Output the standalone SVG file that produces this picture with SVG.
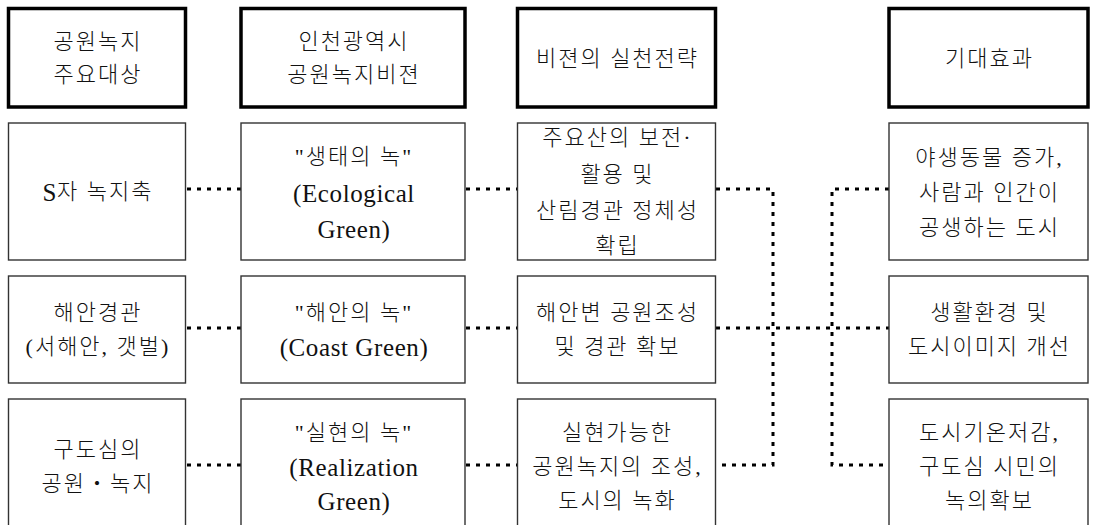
<svg xmlns="http://www.w3.org/2000/svg" width="1093" height="525" viewBox="0 0 1093 525">
<style>
.hd{fill:#fff;stroke:#000;stroke-width:3.5}
.bx{fill:#fff;stroke:#333;stroke-width:1.4}
.t{font-family:"Liberation Serif","Noto Sans CJK KR",serif;font-size:22px;font-weight:300;letter-spacing:2px;fill:#111;text-anchor:middle;dominant-baseline:central}
.e{font-size:25px;letter-spacing:0.6px;font-weight:400}
.cn{fill:none;stroke:#000;stroke-width:3;stroke-dasharray:4 6}
</style>
<rect width="1093" height="525" fill="#fff"/>
<g id="connectors">
<path class="cn" d="M187,189 H241"/>
<path class="cn" d="M466,189 H517"/>
<path class="cn" d="M187,328 H241"/>
<path class="cn" d="M466,328 H517"/>
<path class="cn" d="M187,465 H241"/>
<path class="cn" d="M466,465 H517"/>
<path class="cn" d="M716,189 H773 V465 H716"/>
<path class="cn" d="M716,328 H889"/>
<path class="cn" d="M889,189 H832 V465 H889"/>
</g>
<g id="h1"><rect class="hd" x="8.5" y="8.5" width="177" height="98.5"/><text class="t" x="98" y="41.5">공원녹지</text><text class="t" x="98" y="74.5">주요대상</text></g>
<g id="h2"><rect class="hd" x="241" y="8.5" width="224" height="98.5"/><text class="t" x="354" y="41.5">인천광역시</text><text class="t" x="354" y="74.5">공원녹지비젼</text></g>
<g id="h3"><rect class="hd" x="517.5" y="8.5" width="198" height="98.5"/><text class="t" x="617.5" y="58">비젼의 실천전략</text></g>
<g id="h4"><rect class="hd" x="889" y="8.5" width="199" height="98.5"/><text class="t" x="989.5" y="58">기대효과</text></g>

<g id="r1c1"><rect class="bx" x="8.5" y="123" width="177" height="137"/><text class="t" x="98" y="191.5"><tspan class="e">S</tspan>자 녹지축</text></g>
<g id="r1c2"><rect class="bx" x="241" y="123" width="224" height="137"/><text class="t" x="354" y="156">"생태의 녹"</text><text class="t e" x="354" y="193">(Ecological</text><text class="t e" x="354" y="229">Green)</text></g>
<g id="r1c3"><rect class="bx" x="517.5" y="123" width="198" height="137"/><text class="t" x="617.5" y="137.5">주요산의 보전·</text><text class="t" x="617.5" y="174">활용 및</text><text class="t" x="617.5" y="210">산림경관 정체성</text><text class="t" x="617.5" y="245.5">확립</text></g>
<g id="r1c4"><rect class="bx" x="889" y="123" width="199" height="137"/><text class="t" x="989.5" y="157">야생동물 증가,</text><text class="t" x="989.5" y="192">사람과 인간이</text><text class="t" x="989.5" y="227">공생하는 도시</text></g>

<g id="r2c1"><rect class="bx" x="8.5" y="276" width="177" height="107"/><text class="t" x="98" y="312.5">해안경관</text><text class="t" x="98" y="346.5">(서해안, 갯벌)</text></g>
<g id="r2c2"><rect class="bx" x="241" y="276" width="224" height="107"/><text class="t" x="354" y="312.5">"해안의 녹"</text><text class="t e" x="354" y="347">(Coast Green)</text></g>
<g id="r2c3"><rect class="bx" x="517.5" y="276" width="198" height="107"/><text class="t" x="617.5" y="312.5">해안변 공원조성</text><text class="t" x="617.5" y="346.5">및 경관 확보</text></g>
<g id="r2c4"><rect class="bx" x="889" y="276" width="199" height="107"/><text class="t" x="989.5" y="312.5">생활환경 및</text><text class="t" x="989.5" y="346.5">도시이미지 개선</text></g>

<g id="r3c1"><rect class="bx" x="8.5" y="399" width="177" height="135"/><text class="t" x="98" y="449">구도심의</text><text class="t" x="98" y="483">공원・녹지</text></g>
<g id="r3c2"><rect class="bx" x="241" y="399" width="224" height="135"/><text class="t" x="354" y="432">"실현의 녹"</text><text class="t e" x="354" y="467">(Realization</text><text class="t e" x="354" y="501">Green)</text></g>
<g id="r3c3"><rect class="bx" x="517.5" y="399" width="198" height="135"/><text class="t" x="617.5" y="432">실현가능한</text><text class="t" x="617.5" y="466">공원녹지의 조성,</text><text class="t" x="617.5" y="500">도시의 녹화</text></g>
<g id="r3c4"><rect class="bx" x="889" y="399" width="199" height="135"/><text class="t" x="989.5" y="432">도시기온저감,</text><text class="t" x="989.5" y="466">구도심 시민의</text><text class="t" x="989.5" y="500">녹의확보</text></g>
</svg>
